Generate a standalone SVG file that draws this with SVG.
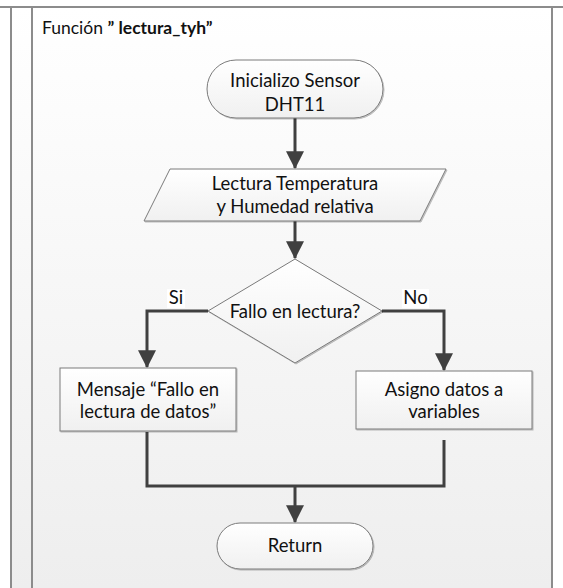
<svg xmlns="http://www.w3.org/2000/svg" width="563" height="588" viewBox="0 0 563 588">
  <defs>
    <linearGradient id="bg" x1="0" y1="0" x2="0" y2="1">
      <stop offset="0" stop-color="#ffffff"/>
      <stop offset="1" stop-color="#eeeeee"/>
    </linearGradient>
    <linearGradient id="shapeFill" x1="0" y1="0" x2="0" y2="1">
      <stop offset="0" stop-color="#ffffff"/>
      <stop offset="1" stop-color="#f0f0f0"/>
    </linearGradient>
    <filter id="shadow" x="-10%" y="-10%" width="130%" height="130%">
      <feDropShadow dx="1" dy="1" stdDeviation="0.6" flood-color="#000" flood-opacity="0.25"/>
    </filter>
    <marker id="arrow" markerUnits="userSpaceOnUse" markerWidth="18" markerHeight="18" viewBox="0 0 16 16" refX="15" refY="8" orient="auto">
      <path d="M0,0 L16,8 L0,16 Z" fill="#404040"/>
    </marker>
  </defs>
  <style>
    .shape { fill: url(#shapeFill); stroke: #7a7a7a; stroke-width: 1; filter: url(#shadow); }
    .frame { fill: none; stroke: #8c8c8c; stroke-width: 2; }
    .conn { fill: none; stroke: #404040; stroke-width: 3; }
    .txt { font-family: Lato, "Liberation Sans", sans-serif; font-size: 18.5px; fill: #111; text-anchor: middle; }
    .title { font-family: Lato, "Liberation Sans", sans-serif; font-size: 17.5px; fill: #111; }
    .lbl { fill: #ffffff; }
  </style>

  <!-- page background and table frame -->
  <rect x="11" y="7" width="541" height="581" fill="url(#bg)"/>
  <line class="frame" x1="0" y1="7" x2="563" y2="7"/>
  <line class="frame" x1="11" y1="7" x2="11" y2="588" stroke="#666"/>
  <line class="frame" x1="32" y1="7" x2="32" y2="588"/>
  <line class="frame" x1="552" y1="7" x2="552" y2="588"/>

  <text class="title" x="42" y="34">Función <tspan font-weight="bold">” lectura_tyh”</tspan></text>

  <!-- connectors -->
  <g id="connectors">
    <line class="conn" x1="295" y1="118" x2="295" y2="168" marker-end="url(#arrow)"/>
    <line class="conn" x1="295" y1="221" x2="295" y2="258" marker-end="url(#arrow)"/>
    <polyline class="conn" points="208,311 147,311 147,367" marker-end="url(#arrow)"/>
    <polyline class="conn" points="382,311 444,311 444,370" marker-end="url(#arrow)"/>
    <polyline class="conn" points="147,432 147,486 444,486 444,440"/>
    <line class="conn" x1="295" y1="486" x2="295" y2="522" marker-end="url(#arrow)"/>
    <rect class="lbl" x="167" y="289" width="18" height="19"/>
    <text class="txt" x="176" y="304">Si</text>
    <rect class="lbl" x="402" y="289" width="27" height="19"/>
    <text class="txt" x="415.5" y="304">No</text>
  </g>

  <g id="start">
    <rect class="shape" x="207" y="60" width="176" height="58" rx="29" ry="29"/>
    <text class="txt" x="295" y="87">Inicializo Sensor</text>
    <text class="txt" x="295" y="111">DHT11</text>
  </g>

  <g id="read">
    <polygon class="shape" points="170,169 446,169 420,221 144,221"/>
    <text class="txt" x="295" y="190">Lectura Temperatura</text>
    <text class="txt" x="295" y="213">y Humedad relativa</text>
  </g>

  <g id="decision">
    <polygon class="shape" points="295,259 382,311 295,363 208,311"/>
    <text class="txt" x="295" y="318">Fallo en lectura?</text>
  </g>

  <g id="error-msg">
    <rect class="shape" x="60" y="368" width="176" height="63"/>
    <text class="txt" x="148" y="396">Mensaje “Fallo en</text>
    <text class="txt" x="148" y="418">lectura de datos”</text>
  </g>

  <g id="assign">
    <rect class="shape" x="356" y="371" width="176" height="58"/>
    <text class="txt" x="444" y="396">Asigno datos a</text>
    <text class="txt" x="444" y="418">variables</text>
  </g>

  <g id="return">
    <rect class="shape" x="217" y="523" width="156" height="46" rx="23" ry="23"/>
    <text class="txt" x="295" y="552">Return</text>
  </g>
</svg>
